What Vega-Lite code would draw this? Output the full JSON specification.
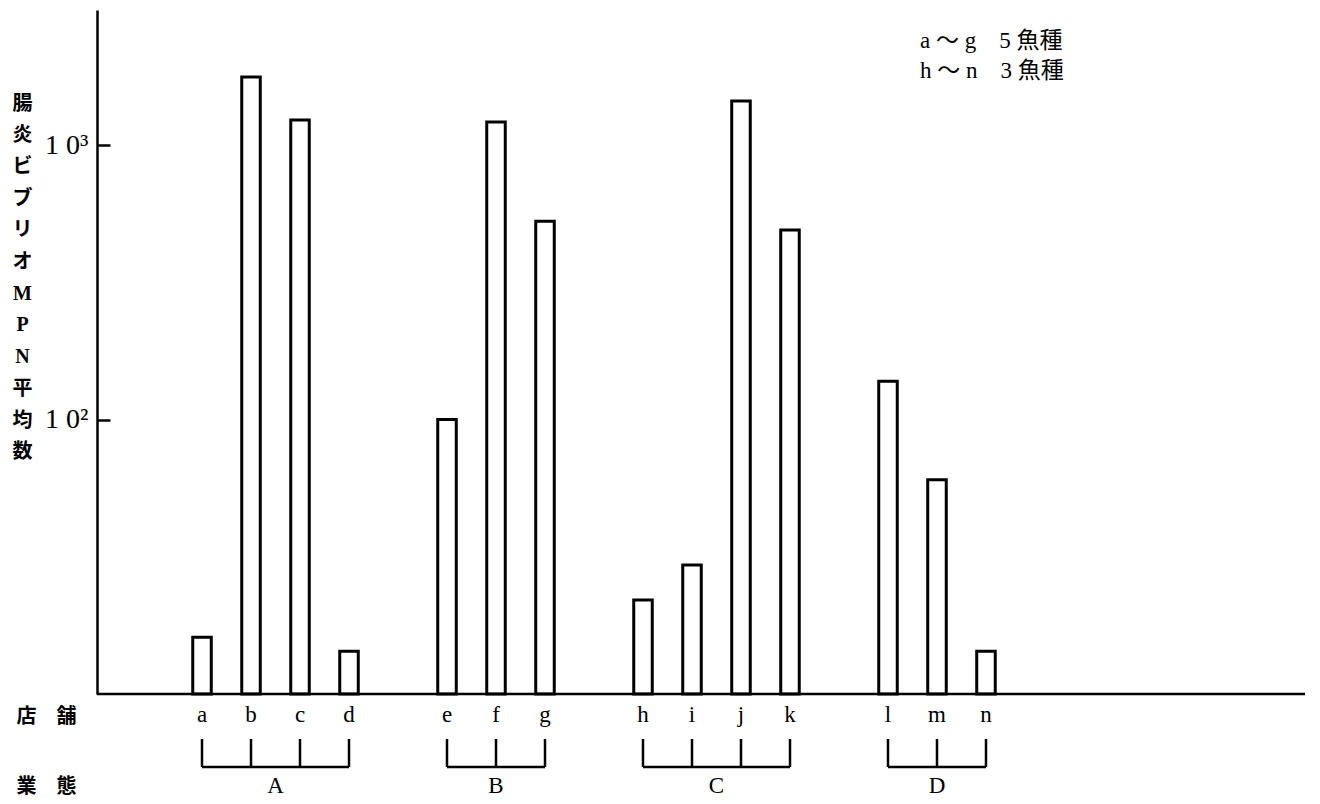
{
  "$schema": "https://vega.github.io/schema/vega-lite/v6.json",
  "padding": {"left": 12, "top": 10, "right": 5, "bottom": 2},
  "background": "white",
  "spacing": 11,
  "title": {
    "text": ["a ～ g　5 魚種", "h ～ n　3 魚種"],
    "anchor": "start",
    "frame": "group",
    "orient": "top",
    "offset": -73,
    "dx": 823,
    "fontSize": 23,
    "lineHeight": 30,
    "fontWeight": "normal",
    "color": "black"
  },
  "config": {
    "view": {"stroke": null},
    "font": "Liberation Serif, Noto Sans CJK JP",
    "axis": {"labelColor": "black", "titleColor": "black"}
  },
  "datasets": {
    "stores": [
      {"store": "a", "group": "A", "mpn": 16.1},
      {"store": "b", "group": "A", "mpn": 1770},
      {"store": "c", "group": "A", "mpn": 1233},
      {"store": "d", "group": "A", "mpn": 14.3},
      {"store": "e", "group": "B", "mpn": 100},
      {"store": "f", "group": "B", "mpn": 1213},
      {"store": "g", "group": "B", "mpn": 528},
      {"store": "h", "group": "C", "mpn": 22},
      {"store": "i", "group": "C", "mpn": 29.5},
      {"store": "j", "group": "C", "mpn": 1446},
      {"store": "k", "group": "C", "mpn": 490},
      {"store": "l", "group": "D", "mpn": 138},
      {"store": "m", "group": "D", "mpn": 60.3},
      {"store": "n", "group": "D", "mpn": 14.3}
    ],
    "groups": [
      {"group": "A", "first": "a", "last": "d", "mid": "b", "even": true},
      {"group": "B", "first": "e", "last": "g", "mid": "f", "even": false},
      {"group": "C", "first": "h", "last": "k", "mid": "i", "even": true},
      {"group": "D", "first": "l", "last": "n", "mid": "m", "even": false}
    ]
  },
  "vconcat": [
    {
      "width": 1208,
      "height": 684,
      "layer": [
        {
          "data": {"name": "stores"},
          "mark": {"type": "bar", "fill": "white", "stroke": "black", "strokeWidth": 3},
          "encoding": {
            "x": {
              "field": "store",
              "type": "nominal",
              "scale": {
                "domain": ["_0", "a", "b", "c", "d", "_1", "e", "f", "g", "_2", "h", "i", "j", "k", "_3", "l", "m", "n"],
                "range": [0, 945],
                "paddingInner": 0.622,
                "paddingOuter": 0.954
              },
              "axis": {
                "values": ["a", "b", "c", "d", "e", "f", "g", "h", "i", "j", "k", "l", "m", "n"],
                "domain": false,
                "ticks": false,
                "labelAngle": 0,
                "labelFontSize": 23,
                "labelPadding": 9,
                "title": "店　舗",
                "titleFontSize": 20,
                "titleFontWeight": "bold",
                "titleAngle": 0,
                "titleAlign": "center",
                "titleBaseline": "middle",
                "titleX": -51,
                "titleY": 22
              }
            },
            "y": {
              "field": "mpn",
              "type": "quantitative",
              "scale": {"type": "log", "domain": [10, 3105], "nice": false},
              "axis": {
                "values": [100, 1000],
                "labelExpr": "datum.value == 1000 ? '1 0³' : '1 0²'",
                "labelFontSize": 28,
                "labelPadding": 22,
                "grid": false,
                "domainColor": "black",
                "domainWidth": 2.5,
                "tickColor": "black",
                "tickWidth": 2.5,
                "tickSize": -13,
                "title": ["腸", "炎", "ビ", "ブ", "リ", "オ", "M", "P", "N", "平", "均", "数"],
                "titleFontSize": 20,
                "titleFontWeight": "bold",
                "titleLineHeight": 31.7,
                "titleAngle": 0,
                "titleAlign": "center",
                "titleBaseline": "top",
                "titleX": -75,
                "titleY": 83
              }
            },
            "y2": {"datum": 10}
          }
        },
        {
          "data": {"values": [{}]},
          "mark": {"type": "rule", "color": "black", "strokeWidth": 2.5},
          "encoding": {"y": {"datum": 10}}
        }
      ]
    },
    {
      "width": 1208,
      "height": 56,
      "layer": [
        {
          "data": {"name": "stores"},
          "mark": {"type": "rule", "color": "black", "strokeWidth": 2.5},
          "encoding": {
            "x": {
              "field": "store",
              "type": "nominal",
              "scale": {
                "domain": ["_0", "a", "b", "c", "d", "_1", "e", "f", "g", "_2", "h", "i", "j", "k", "_3", "l", "m", "n"],
                "range": [0, 945],
                "paddingInner": 0.622,
                "paddingOuter": 0.954
              },
              "axis": null
            },
            "y": {
              "datum": 1,
              "type": "quantitative",
              "scale": {"domain": [0, 1], "nice": false},
              "axis": {
                "domain": false,
                "ticks": false,
                "labels": false,
                "grid": false,
                "title": "業　態",
                "titleFontSize": 20,
                "titleFontWeight": "bold",
                "titleAngle": 0,
                "titleAlign": "center",
                "titleBaseline": "middle",
                "titleX": -51,
                "titleY": 47
              }
            },
            "y2": {"datum": 0.5}
          }
        },
        {
          "data": {"name": "groups"},
          "mark": {"type": "rule", "color": "black", "strokeWidth": 2.5},
          "encoding": {
            "x": {"field": "first", "type": "nominal"},
            "x2": {"field": "last"},
            "y": {"datum": 0.5, "type": "quantitative"}
          }
        },
        {
          "data": {"name": "groups"},
          "transform": [{"filter": "datum.even"}],
          "mark": {"type": "text", "fontSize": 23, "dx": 24.5, "baseline": "middle", "color": "black"},
          "encoding": {
            "x": {"field": "mid", "type": "nominal"},
            "y": {"datum": 0.16, "type": "quantitative"},
            "text": {"field": "group"}
          }
        },
        {
          "data": {"name": "groups"},
          "transform": [{"filter": "!datum.even"}],
          "mark": {"type": "text", "fontSize": 23, "baseline": "middle", "color": "black"},
          "encoding": {
            "x": {"field": "mid", "type": "nominal"},
            "y": {"datum": 0.16, "type": "quantitative"},
            "text": {"field": "group"}
          }
        }
      ]
    }
  ]
}
